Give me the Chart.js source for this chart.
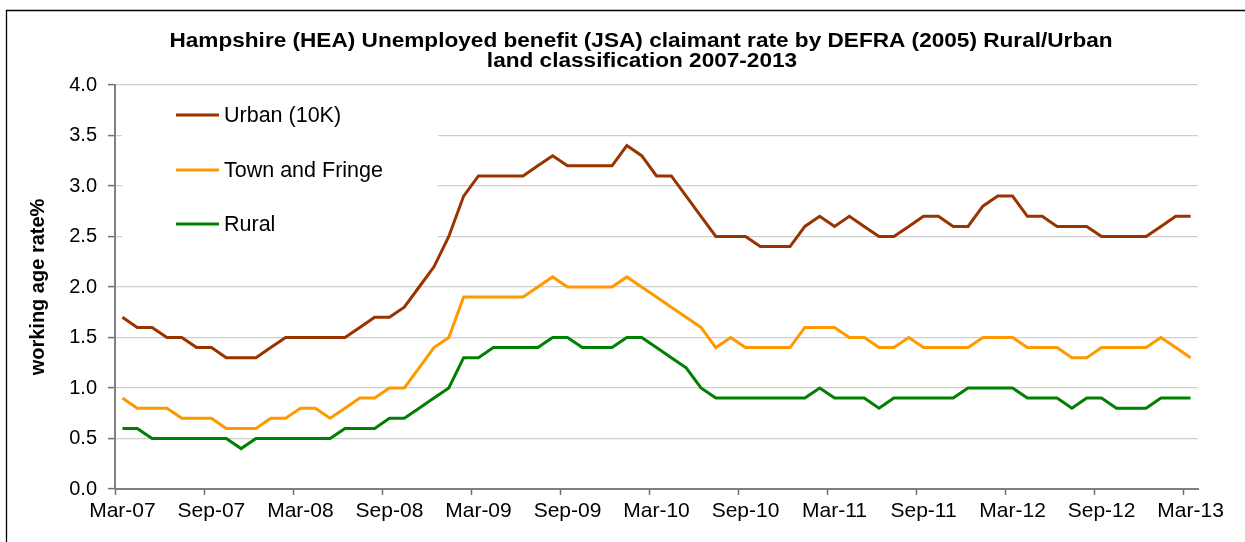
<!DOCTYPE html>
<html>
<head>
<meta charset="utf-8">
<script src="https://cdn.jsdelivr.net/npm/chart.js@4.4.1/dist/chart.umd.min.js"></script>
<style>
  html, body { margin: 0; padding: 0; background: #ffffff; }
  #wrap { width: 1245px; height: 542px; }
</style>
</head>
<body>
<div id="wrap"><canvas id="c" width="1245" height="542"></canvas></div>
<script>
const months = [
  'Mar-07','Apr-07','May-07','Jun-07','Jul-07','Aug-07','Sep-07','Oct-07','Nov-07','Dec-07','Jan-08','Feb-08',
  'Mar-08','Apr-08','May-08','Jun-08','Jul-08','Aug-08','Sep-08','Oct-08','Nov-08','Dec-08','Jan-09','Feb-09',
  'Mar-09','Apr-09','May-09','Jun-09','Jul-09','Aug-09','Sep-09','Oct-09','Nov-09','Dec-09','Jan-10','Feb-10',
  'Mar-10','Apr-10','May-10','Jun-10','Jul-10','Aug-10','Sep-10','Oct-10','Nov-10','Dec-10','Jan-11','Feb-11',
  'Mar-11','Apr-11','May-11','Jun-11','Jul-11','Aug-11','Sep-11','Oct-11','Nov-11','Dec-11','Jan-12','Feb-12',
  'Mar-12','Apr-12','May-12','Jun-12','Jul-12','Aug-12','Sep-12','Oct-12','Nov-12','Dec-12','Jan-13','Feb-13',
  'Mar-13'
];

const urban = [
  1.7,1.6,1.6,1.5,1.5,1.4,1.4,1.3,1.3,1.3,1.4,1.5,
  1.5,1.5,1.5,1.5,1.6,1.7,1.7,1.8,2.0,2.2,2.5,2.9,
  3.1,3.1,3.1,3.1,3.2,3.3,3.2,3.2,3.2,3.2,3.4,3.3,
  3.1,3.1,2.9,2.7,2.5,2.5,2.5,2.4,2.4,2.4,2.6,2.7,
  2.6,2.7,2.6,2.5,2.5,2.6,2.7,2.7,2.6,2.6,2.8,2.9,
  2.9,2.7,2.7,2.6,2.6,2.6,2.5,2.5,2.5,2.5,2.6,2.7,
  2.7
];

const townFringe = [
  0.9,0.8,0.8,0.8,0.7,0.7,0.7,0.6,0.6,0.6,0.7,0.7,
  0.8,0.8,0.7,0.8,0.9,0.9,1.0,1.0,1.2,1.4,1.5,1.9,
  1.9,1.9,1.9,1.9,2.0,2.1,2.0,2.0,2.0,2.0,2.1,2.0,
  1.9,1.8,1.7,1.6,1.4,1.5,1.4,1.4,1.4,1.4,1.6,1.6,
  1.6,1.5,1.5,1.4,1.4,1.5,1.4,1.4,1.4,1.4,1.5,1.5,
  1.5,1.4,1.4,1.4,1.3,1.3,1.4,1.4,1.4,1.4,1.5,1.4,
  1.3
];

const rural = [
  0.6,0.6,0.5,0.5,0.5,0.5,0.5,0.5,0.4,0.5,0.5,0.5,
  0.5,0.5,0.5,0.6,0.6,0.6,0.7,0.7,0.8,0.9,1.0,1.3,
  1.3,1.4,1.4,1.4,1.4,1.5,1.5,1.4,1.4,1.4,1.5,1.5,
  1.4,1.3,1.2,1.0,0.9,0.9,0.9,0.9,0.9,0.9,0.9,1.0,
  0.9,0.9,0.9,0.8,0.9,0.9,0.9,0.9,0.9,1.0,1.0,1.0,
  1.0,0.9,0.9,0.9,0.8,0.9,0.9,0.8,0.8,0.8,0.9,0.9,
  0.9
];

const seriesNames = ['Urban (10K)', 'Town and Fringe', 'Rural'];
const seriesColors = ['#993300', '#FF9900', '#008000'];
const yTickValues = [0.0, 0.5, 1.0, 1.5, 2.0, 2.5, 3.0, 3.5, 4.0];
const titleLines = [
  'Hampshire (HEA) Unemployed benefit (JSA) claimant rate by DEFRA (2005) Rural/Urban',
  'land classification 2007-2013'
];
const yAxisTitle = 'working age rate%';
const labelEvery = 6;

const FONT = "'Liberation Sans', Arial, sans-serif";

const decor = {
  id: 'decor',
  beforeDraw(chart) {
    const ctx = chart.ctx;
    ctx.save();
    ctx.fillStyle = '#ffffff';
    ctx.fillRect(0, 0, chart.width, chart.height);
    ctx.strokeStyle = '#000000';
    ctx.lineWidth = 1.3;
    ctx.beginPath();
    ctx.moveTo(6.5, chart.height + 2);
    ctx.lineTo(6.5, 10.5);
    ctx.lineTo(chart.width + 2, 10.5);
    ctx.stroke();
    ctx.restore();
  },
  beforeDatasetsDraw(chart) {
    const ctx = chart.ctx;
    const area = chart.chartArea;
    ctx.save();
    ctx.fillStyle = '#ffffff';
    ctx.fillRect(area.left + 7, area.top + 4, 316, 168);
    ctx.font = '21.5px ' + FONT;
    ctx.textBaseline = 'middle';
    ctx.textAlign = 'left';
    const rows = [115, 170, 224];
    seriesNames.forEach((name, i) => {
      ctx.strokeStyle = seriesColors[i];
      ctx.lineWidth = 3;
      ctx.beginPath();
      ctx.moveTo(176, rows[i]);
      ctx.lineTo(219, rows[i]);
      ctx.stroke();
      ctx.fillStyle = '#000000';
      ctx.fillText(name, 224, rows[i] + 1);
    });
    ctx.restore();
  },
  afterDraw(chart) {
    const ctx = chart.ctx;
    ctx.save();
    ctx.fillStyle = '#000000';
    ctx.font = 'bold 20px ' + FONT;
    ctx.textAlign = 'center';
    ctx.textBaseline = 'alphabetic';
    const sx = 1.13;
    ctx.scale(sx, 1);
    ctx.fillText(titleLines[0], 641 / sx, 47);
    ctx.fillText(titleLines[1], 642 / sx, 67);
    ctx.restore();
  }
};

new Chart(document.getElementById('c'), {
  type: 'line',
  data: {
    labels: months,
    datasets: [
      { label: seriesNames[0], data: urban, borderColor: seriesColors[0], backgroundColor: seriesColors[0] },
      { label: seriesNames[1], data: townFringe, borderColor: seriesColors[1], backgroundColor: seriesColors[1] },
      { label: seriesNames[2], data: rural, borderColor: seriesColors[2], backgroundColor: seriesColors[2] }
    ].map(d => Object.assign(d, { borderWidth: 3, pointRadius: 0, tension: 0, fill: false }))
  },
  options: {
    responsive: false,
    animation: false,
    events: [],
    layout: { padding: { left: 0, right: 47, top: 85, bottom: 0 } },
    plugins: {
      legend: { display: false },
      title: { display: false },
      tooltip: { enabled: false }
    },
    scales: {
      x: {
        type: 'category',
        offset: true,
        grid: {
          offset: true,
          drawOnChartArea: false,
          drawTicks: true,
          tickLength: 6,
          tickWidth: 1.5,
          tickColor: (c) => (c.index % labelEvery === 0 ? '#707070' : 'rgba(0,0,0,0)')
        },
        border: { display: true, color: '#808080', width: 2 },
        ticks: {
          autoSkip: false,
          maxRotation: 0,
          minRotation: 0,
          padding: 4,
          color: '#000000',
          font: { family: FONT, size: 21 },
          callback: function (v, i) { return i % labelEvery === 0 ? months[i] : ''; }
        },
        afterFit: (s) => { s.height = 53; }
      },
      y: {
        min: 0,
        max: 4,
        afterBuildTicks: (s) => { s.ticks = yTickValues.map(v => ({ value: v })); },
        grid: {
          color: '#cfcfcf',
          lineWidth: 1.2,
          tickColor: '#707070',
          tickLength: 7,
          tickWidth: 1.5
        },
        border: { display: true, color: '#808080', width: 2 },
        ticks: {
          padding: 11,
          color: '#000000',
          font: { family: FONT, size: 20 },
          callback: (v) => Number(v).toFixed(1)
        },
        title: {
          display: true,
          text: yAxisTitle,
          color: '#000000',
          font: { family: FONT, size: 20, weight: 'bold' },
          padding: { top: 26, bottom: 0 }
        },
        afterFit: (s) => { s.width = 115; }
      }
    }
  },
  plugins: [decor]
});
</script>
</body>
</html>
